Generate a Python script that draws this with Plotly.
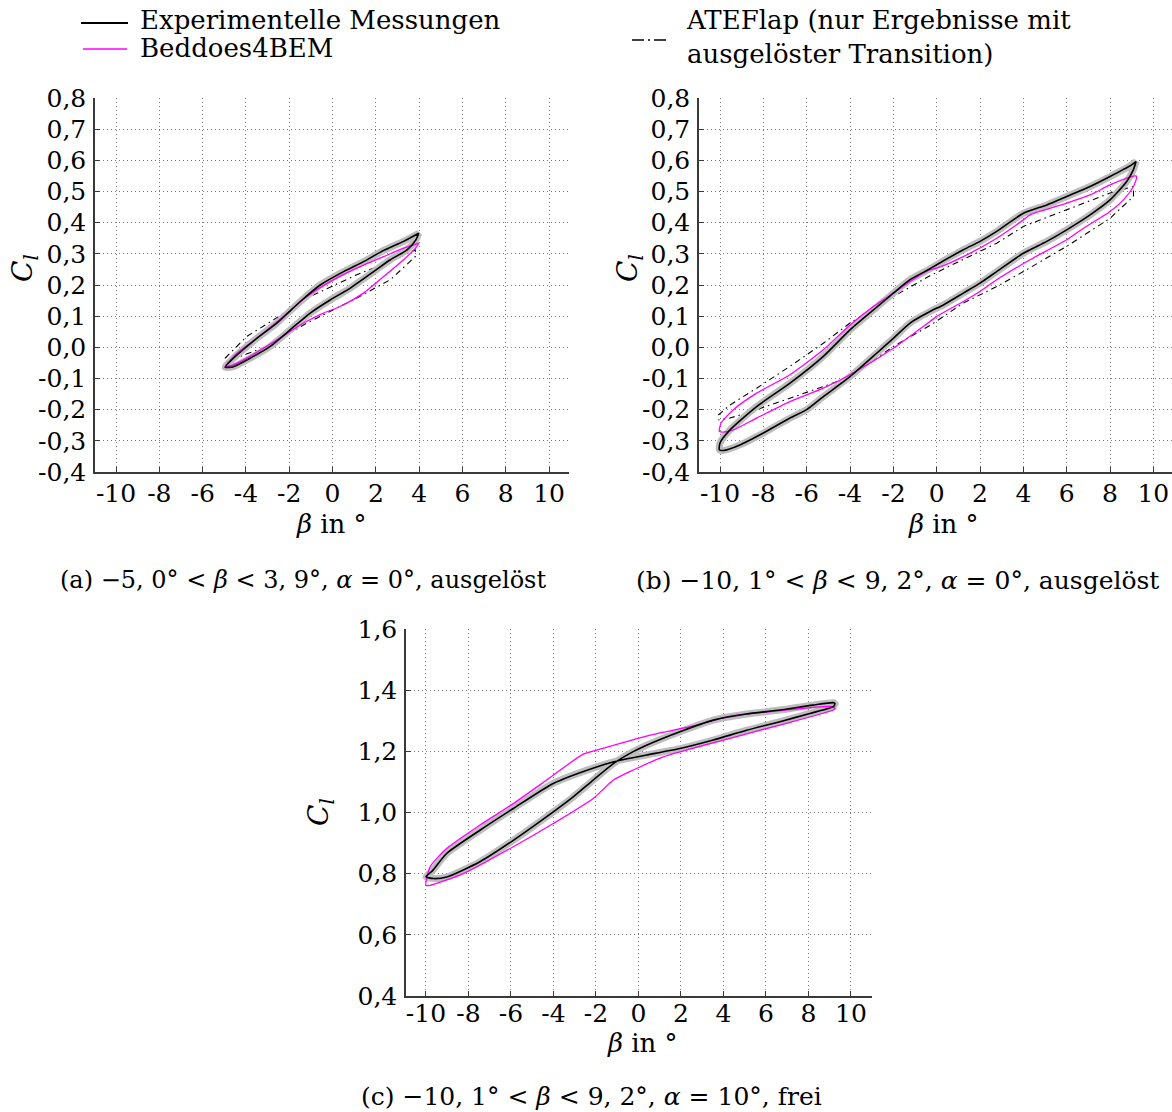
import plotly.graph_objects as go

W, H = 1172, 1112
FONT = "DejaVu Serif"

# ---------------- (a) -5,0 < beta < 3,9 deg, alpha = 0 deg, tripped ----------------
a_exp_up_beta = [-4.96, -4.58, -3.50, -2.57, -1.49, -0.57, 0.51, 1.43, 2.36, 3.28, 3.98]
a_exp_up_cl = [-0.064, -0.035, 0.029, 0.078, 0.147, 0.200, 0.243, 0.275, 0.311, 0.340, 0.366]
a_exp_lo_beta = [3.98, 3.85, 3.44, 2.67, 1.90, 0.82, -0.11, -1.03, -1.96, -2.88, -3.81, -4.58, -4.96]
a_exp_lo_cl = [0.366, 0.345, 0.313, 0.281, 0.243, 0.190, 0.152, 0.110, 0.056, 0.003, -0.035, -0.062, -0.064]

a_bed_up_beta = [-4.96, -4.42, -3.50, -2.27, -1.19, -0.11, 1.12, 2.36, 3.28, 3.98]
a_bed_up_cl = [-0.062, -0.019, 0.029, 0.099, 0.163, 0.211, 0.254, 0.291, 0.318, 0.334]
a_bed_lo_beta = [3.98, 3.85, 3.28, 2.36, 1.43, 0.35, -0.42, -1.34, -2.57, -3.81, -4.58, -4.96]
a_bed_lo_cl = [0.334, 0.320, 0.281, 0.227, 0.174, 0.131, 0.110, 0.078, 0.024, -0.029, -0.056, -0.062]

a_ate_up_beta = [-4.96, -3.96, -2.73, -1.19, 1.12, 2.67, 3.82]
a_ate_up_cl = [-0.035, 0.035, 0.088, 0.158, 0.233, 0.275, 0.313]
a_ate_lo_beta = [3.82, 2.67, 1.12, -1.19, -3.04, -4.27, -4.89, -4.96]
a_ate_lo_cl = [0.291, 0.217, 0.158, 0.078, 0.003, -0.029, -0.049, -0.035]

# ---------------- (b) -10,1 < beta < 9,2 deg, alpha = 0 deg, tripped ----------------
b_exp_up_beta = [-10.03, -10.0, -9.54, -8.31, -6.77, -5.23, -4.0, -2.92, -2.0, -1.23, -0.31,
                 0.0, 1.23, 2.0, 2.77, 4.0, 5.08, 6.0, 7.08, 8.0, 8.92, 9.2]
b_exp_up_cl = [-0.329, -0.307, -0.265, -0.190, -0.115, -0.029, 0.056, 0.120, 0.174, 0.217, 0.252,
               0.265, 0.313, 0.340, 0.372, 0.430, 0.457, 0.484, 0.516, 0.548, 0.582, 0.596]
b_exp_lo_beta = [9.2, 9.08, 8.77, 8.0, 7.08, 6.0, 5.08, 4.0, 2.77, 2.0, 1.23, 0.31, -0.31,
                 -1.23, -2.0, -2.77, -4.0, -5.23, -6.0, -6.77, -8.0, -9.08, -9.85, -10.03]
b_exp_lo_cl = [0.596, 0.570, 0.532, 0.473, 0.425, 0.377, 0.340, 0.302, 0.243, 0.206, 0.174, 0.136, 0.115,
               0.078, 0.029, -0.019, -0.094, -0.158, -0.200, -0.227, -0.275, -0.313, -0.331, -0.329]

b_bed_up_beta = [-10.03, -9.95, -9.38, -8.31, -6.77, -5.23, -4.0, -2.92, -2.0, -1.23, -0.31,
                 0.0, 1.23, 2.77, 4.0, 4.31, 6.0, 7.08, 8.0, 8.92, 9.2, 9.23]
b_bed_up_cl = [-0.270, -0.243, -0.200, -0.147, -0.088, -0.008, 0.072, 0.131, 0.174, 0.211, 0.249,
               0.254, 0.291, 0.350, 0.409, 0.425, 0.463, 0.489, 0.521, 0.546, 0.550, 0.543]
b_bed_lo_beta = [9.23, 9.08, 8.62, 8.0, 6.77, 6.0, 4.31, 2.77, 2.0, 1.23, 0.0, -0.31,
                 -2.0, -4.0, -5.23, -6.77, -8.31, -9.38, -9.85, -10.03]
b_bed_lo_cl = [0.543, 0.516, 0.473, 0.436, 0.382, 0.345, 0.281, 0.217, 0.179, 0.147, 0.099, 0.083,
               -0.003, -0.088, -0.131, -0.174, -0.227, -0.265, -0.272, -0.270]

b_ate_up_beta = [-10.08, -9.54, -8.31, -6.77, -5.23, -4.0, -2.77, -2.0, -0.31, 1.23, 2.77,
                 4.0, 6.0, 8.0, 9.08]
b_ate_up_cl = [-0.217, -0.185, -0.131, -0.061, 0.013, 0.078, 0.131, 0.163, 0.230, 0.281, 0.334,
               0.388, 0.441, 0.495, 0.516]
b_ate_lo_beta = [9.08, 8.0, 6.0, 4.0, 2.77, 1.23, -0.31, -2.0, -4.0, -5.23, -6.77, -8.31, -9.54, -10.08]
b_ate_lo_cl = [0.484, 0.414, 0.324, 0.243, 0.195, 0.142, 0.070, 0.003, -0.094, -0.126, -0.163,
               -0.200, -0.227, -0.233]

# ---------------- (c) -10,1 < beta < 9,2 deg, alpha = 10 deg, free transition ----------------
c_exp_up_beta = [-10.0, -9.69, -9.03, -7.46, -5.89, -4.01, -1.97, -0.87, 0.38, 1.95, 3.52,
                 5.09, 6.66, 8.07, 9.17, 9.25]
c_exp_up_cl = [0.790, 0.810, 0.866, 0.942, 1.013, 1.095, 1.149, 1.171, 1.188, 1.209, 1.237,
               1.269, 1.297, 1.324, 1.346, 1.355]
c_exp_lo_beta = [9.25, 9.2, 8.2, 6.66, 5.09, 3.52, 1.95, 0.38, -0.25, -1.18, -2.13, -3.07,
                 -4.01, -5.89, -7.46, -9.03, -9.65, -10.0]
c_exp_lo_cl = [1.355, 1.359, 1.351, 1.335, 1.322, 1.302, 1.264, 1.220, 1.199, 1.160, 1.106, 1.051,
               1.002, 0.909, 0.839, 0.789, 0.784, 0.790]

c_bed_up_beta = [-10.0, -9.81, -9.03, -7.46, -5.89, -4.32, -2.6, -1.97, 0.38, 2.74, 4.3,
                 6.66, 9.17, 9.25]
c_bed_up_cl = [0.762, 0.822, 0.882, 0.959, 1.029, 1.106, 1.191, 1.204, 1.250, 1.286, 1.315,
               1.333, 1.346, 1.340]
c_bed_lo_beta = [9.25, 9.17, 6.66, 3.99, 1.17, -0.24, -1.18, -2.13, -4.01, -5.89, -8.24, -9.81, -10.0]
c_bed_lo_cl = [1.340, 1.335, 1.286, 1.237, 1.182, 1.139, 1.106, 1.046, 0.964, 0.888, 0.800,
               0.762, 0.762]

# ---------------- tick labels ----------------
x_tick_vals = [-10, -8, -6, -4, -2, 0, 2, 4, 6, 8, 10]
x_tick_text = ["-10", "-8", "-6", "-4", "-2", "0", "2", "4", "6", "8", "10"]
y_ab_tick_vals = [0.8, 0.7, 0.6, 0.5, 0.4, 0.3, 0.2, 0.1, 0.0, -0.1, -0.2, -0.3, -0.4]
y_ab_tick_text = ["0,8", "0,7", "0,6", "0,5", "0,4", "0,3", "0,2", "0,1", "0,0",
                  "-0,1", "-0,2", "-0,3", "-0,4"]
y_c_tick_vals = [1.6, 1.4, 1.2, 1.0, 0.8, 0.6, 0.4]
y_c_tick_text = ["1,6", "1,4", "1,2", "1,0", "0,8", "0,6", "0,4"]

EXP_NAME = "Experimentelle Messungen"
BED_NAME = "Beddoes4BEM"
ATE_NAME = "ATEFlap (nur Ergebnisse mit<br>ausgelöster Transition)"

HALO = "#bdbdbd"
MAGENTA = "#ff00ff"
DASHDOT = "6px,4px,1.5px,4px"
GRID = "#7a7a7a"
AXIS = "#3a3a3a"


def px(x):
    return x / W


def py(y):
    return 1 - y / H


fig = go.Figure()


def loop(up_b, up_c, lo_b, lo_c):
    return up_b + lo_b, up_c + lo_c


def add_panel(k, exp, bed, ate):
    xa, ya = ("x" if k == 1 else f"x{k}"), ("y" if k == 1 else f"y{k}")
    if ate is not None:
        b, c = loop(*ate)
        fig.add_trace(go.Scatter(x=b, y=c, mode="lines", xaxis=xa, yaxis=ya, showlegend=False,
                                 line=dict(color="black", width=1.1, dash=DASHDOT)))
    b, c = loop(*exp)
    fig.add_trace(go.Scatter(x=b, y=c, mode="lines", xaxis=xa, yaxis=ya, showlegend=False,
                             line=dict(color=HALO, width=7, shape="spline", smoothing=0.6)))
    b, c = loop(*bed)
    fig.add_trace(go.Scatter(x=b, y=c, mode="lines", xaxis=xa, yaxis=ya, showlegend=False,
                             line=dict(color=MAGENTA, width=1.3, shape="spline", smoothing=0.6)))
    b, c = loop(*exp)
    fig.add_trace(go.Scatter(x=b, y=c, mode="lines", xaxis=xa, yaxis=ya, showlegend=False,
                             line=dict(color="black", width=1.6, shape="spline", smoothing=0.6)))


add_panel(1, (a_exp_up_beta, a_exp_up_cl, a_exp_lo_beta, a_exp_lo_cl),
          (a_bed_up_beta, a_bed_up_cl, a_bed_lo_beta, a_bed_lo_cl),
          (a_ate_up_beta, a_ate_up_cl, a_ate_lo_beta, a_ate_lo_cl))
add_panel(2, (b_exp_up_beta, b_exp_up_cl, b_exp_lo_beta, b_exp_lo_cl),
          (b_bed_up_beta, b_bed_up_cl, b_bed_lo_beta, b_bed_lo_cl),
          (b_ate_up_beta, b_ate_up_cl, b_ate_lo_beta, b_ate_lo_cl))
add_panel(3, (c_exp_up_beta, c_exp_up_cl, c_exp_lo_beta, c_exp_lo_cl),
          (c_bed_up_beta, c_bed_up_cl, c_bed_lo_beta, c_bed_lo_cl),
          None)


def tickfont():
    return dict(family=FONT, size=25, color="black")


def x_axis(domain, rng, anchor, standoff):
    return dict(domain=domain, range=rng, anchor=anchor,
                tickmode="array", tickvals=x_tick_vals, ticktext=x_tick_text,
                showline=True, linecolor=AXIS, linewidth=1.5,
                ticks="inside", ticklen=5, tickcolor=AXIS,
                showgrid=True, gridcolor=GRID, griddash="1px,3px", gridwidth=1,
                zeroline=False, tickfont=tickfont(), ticklabelstandoff=standoff, automargin=False)


def y_axis(domain, rng, anchor, vals, texts):
    return dict(domain=domain, range=rng, anchor=anchor,
                tickmode="array", tickvals=vals, ticktext=texts,
                showline=True, linecolor=AXIS, linewidth=1.5,
                ticks="inside", ticklen=5, tickcolor=AXIS,
                showgrid=True, gridcolor=GRID, griddash="1px,3px", gridwidth=1,
                zeroline=False, tickfont=tickfont(), ticklabelstandoff=2, automargin=False)


fig.update_layout(
    xaxis=x_axis([px(95), px(569)], [-10.97, 10.92], "y", -2),
    yaxis=y_axis([py(472), py(98)], [-0.4, 0.8], "x", y_ab_tick_vals, y_ab_tick_text),
    xaxis2=x_axis([px(699), 1.0], [-10.97, 10.86], "y2", -2),
    yaxis2=y_axis([py(472), py(98)], [-0.4, 0.8], "x2", y_ab_tick_vals, y_ab_tick_text),
    xaxis3=x_axis([px(406), px(872)], [-10.94, 10.99], "y3", -6),
    yaxis3=y_axis([py(996), py(629)], [0.4, 1.6], "x3", y_c_tick_vals, y_c_tick_text),
    width=W, height=H,
    margin=dict(l=0, r=0, t=0, b=0, autoexpand=False),
    paper_bgcolor="white", plot_bgcolor="white",
    showlegend=False,
    font=dict(family=FONT, color="black"),
)

ann = []


def text(x, y, s, size=26, angle=0, xanchor="center"):
    ann.append(dict(x=px(x), y=py(y), xref="paper", yref="paper", text=s, showarrow=False,
                    textangle=angle, xanchor=xanchor, yanchor="middle",
                    font=dict(family=FONT, size=size, color="black")))


# axis titles
CL = "<i>C</i><sub><i>l</i></sub>"
BETA = "<i>β</i> in °"
text(24, 268, CL, size=28, angle=-90)
text(629, 268, CL, size=28, angle=-90)
text(320, 812, CL, size=28, angle=-90)
text(331, 524, BETA, size=26)
text(943, 524, BETA, size=26)
text(642, 1043, BETA, size=26)

# sub-captions
text(303, 580, "(a) −5, 0° &lt; <i>β</i> &lt; 3, 9°, <i>α</i> = 0°, ausgelöst", size=24)
text(897, 580, "(b) −10, 1° &lt; <i>β</i> &lt; 9, 2°, <i>α</i> = 0°, ausgelöst", size=25)
text(591, 1096, "(c) −10, 1° &lt; <i>β</i> &lt; 9, 2°, <i>α</i> = 10°, frei", size=25)

# legend entries
text(138, 20, EXP_NAME, size=26, xanchor="left")
text(138, 48, BED_NAME, size=26, xanchor="left")
ann.append(dict(x=px(684), y=py(37), xref="paper", yref="paper", text=ATE_NAME, showarrow=False,
                xanchor="left", yanchor="middle", align="left",
                font=dict(family=FONT, size=26, color="black")))
fig.update_layout(annotations=ann)

shapes = [
    dict(type="line", xref="paper", yref="paper", x0=px(81), x1=px(128), y0=py(23), y1=py(23),
         line=dict(color="black", width=2)),
    dict(type="line", xref="paper", yref="paper", x0=px(83), x1=px(127), y0=py(49), y1=py(49),
         line=dict(color=MAGENTA, width=1.5)),
    dict(type="line", xref="paper", yref="paper", x0=px(632), x1=px(668), y0=py(40), y1=py(40),
         line=dict(color="black", width=1.5, dash="12px,4px,2px,4px")),
]
fig.update_layout(shapes=shapes)

fig.write_html("out.html")
